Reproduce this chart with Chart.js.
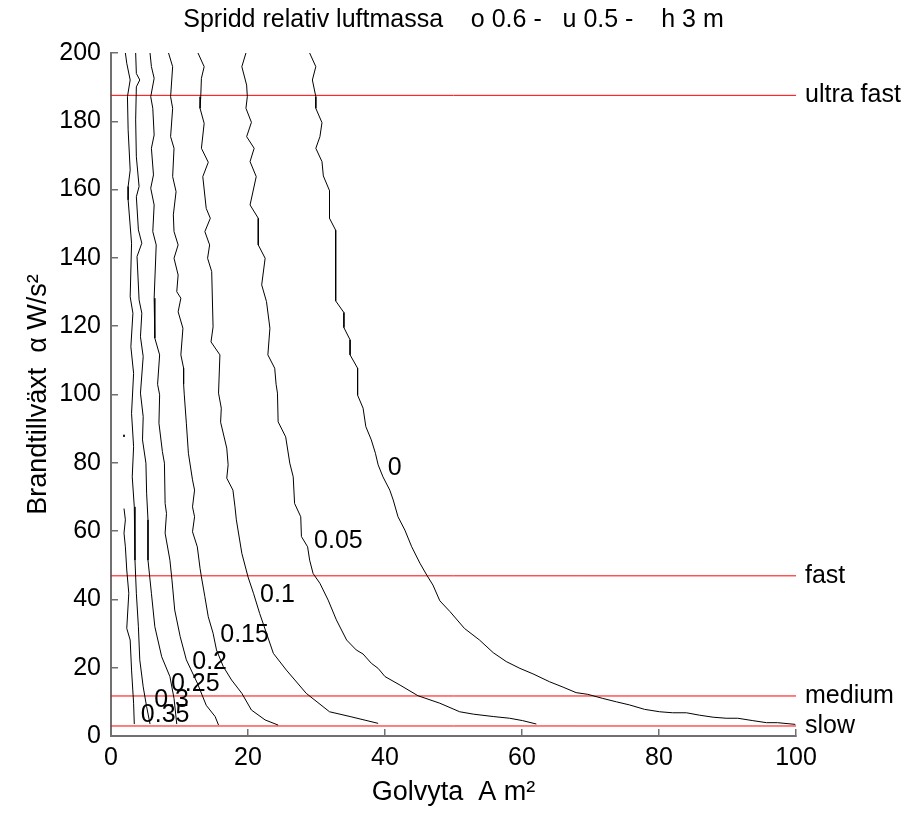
<!DOCTYPE html>
<html>
<head>
<meta charset="utf-8">
<title>Spridd relativ luftmassa</title>
<script src="https://cdn.jsdelivr.net/npm/chart.js@4.4.1/dist/chart.umd.min.js"></script>
<style>
    body { margin: 0; background: #fff; }
    #grafico { display: block; }
</style>
</head>
<body>
<canvas id="grafico" width="907" height="818"></canvas>
<script>
// konturlinjer, [golvyta m2, alfa W/s2]
var niva_0 = [[29.0,200],[29.9,196.0],[29.4,192.1],[29.9,187.2],[29.9,183.8],[30.8,179.6],[30.5,175.5],[29.9,172.1],[30.8,168.2],[31.0,164.0],[31.9,159.7],[31.9,151.6],[32.8,148.1],[32.8,127.4],[34.0,124.0],[34.0,119.6],[34.9,116.0],[34.9,111.6],[36.0,107.7],[36.0,99.8],[36.8,96.0],[37.2,90.6],[38.0,86.7],[38.6,82.8],[39.0,79.4],[39.7,75.9],[40.7,72.0],[41.2,69.1],[41.9,64.2],[42.9,60.3],[43.9,55.4],[45.1,50.6],[46.1,47.1],[47.0,44.2],[48.0,39.6],[49.5,36.4],[51.6,31.5],[53.8,28.1],[55.8,24.4],[57.7,21.8],[59.7,19.8],[61.6,18.2],[64.0,15.9],[66.0,14.3],[67.9,12.7],[69.6,12.2],[71.8,11.0],[73.8,10.0],[75.7,9.1],[77.9,7.8],[80.1,7.1],[82.0,6.8],[84.0,6.8],[85.9,6.1],[87.9,5.5],[89.8,5.2],[91.5,5.2],[93.7,4.5],[95.7,3.9],[97.3,3.9],[99.9,3.4]];
var niva_005 = [[19.7,200],[19.1,196.0],[19.8,190.6],[19.9,187.2],[19.7,183.8],[20.5,179.7],[19.8,175.5],[20.9,172.1],[20.3,168.2],[21.2,163.8],[20.3,155.5],[21.5,151.6],[21.5,143.8],[22.5,139.9],[22.0,132.1],[22.7,127.2],[23.2,119.4],[22.9,111.6],[23.9,107.7],[24.1,103.0],[24.3,100.4],[24.4,92.0],[25.5,87.6],[26.1,79.9],[26.6,75.9],[26.8,68.1],[27.7,64.2],[27.8,58.4],[28.7,55.4],[29.0,51.5],[29.5,47.6],[30.5,44.7],[31.7,39.8],[32.9,34.0],[34.4,28.1],[35.8,25.2],[36.8,24.0],[38.0,21.3],[39.0,19.8],[40.0,17.4],[42.2,14.9],[44.8,11.8],[48.0,9.6],[50.9,7.1],[52.9,6.4],[55.8,5.7],[58.2,5.2],[60.1,4.5],[62.1,3.5]];
var niva_01 = [[12.7,200],[13.6,196.0],[13.2,192.6],[13.1,187.2],[13.0,183.8],[13.6,179.4],[13.2,172.1],[14.2,168.0],[13.4,163.8],[13.9,154.5],[14.5,151.6],[13.7,147.7],[14.4,143.8],[14.1,139.9],[14.7,136.0],[14.9,119.8],[14.6,115.4],[15.9,111.6],[15.7,100.4],[16.1,96.0],[16.0,91.9],[16.9,84.3],[17.1,79.4],[16.9,75.5],[17.8,72.0],[18.1,67.1],[18.3,63.3],[19.1,53.5],[20.0,46.6],[20.8,41.8],[21.7,35.9],[22.7,30.1],[23.7,24.2],[25.6,19.3],[28.5,12.5],[31.9,7.1],[34.9,5.7],[39.0,3.7]];
var niva_015 = [[8.4,200],[9.0,196.0],[8.7,187.2],[9.0,183.8],[8.7,175.5],[9.2,172.1],[9.0,163.8],[9.5,159.4],[9.1,152.6],[9.2,147.7],[9.8,143.8],[9.2,139.9],[9.8,135.0],[9.6,130.1],[10.2,128.2],[9.8,124.2],[10.5,119.4],[10.2,111.6],[10.6,107.7],[10.6,103.0],[10.7,99.9],[11.0,91.6],[11.3,82.8],[11.9,75.0],[12.2,72.0],[11.9,67.1],[12.2,64.2],[11.9,59.8],[12.6,55.4],[13.0,49.1],[13.2,46.6],[13.7,40.8],[14.2,34.9],[14.9,30.1],[15.4,25.2],[16.4,20.3],[17.6,16.4],[19.1,12.5],[20.5,7.6],[22.5,4.7],[24.4,3.2]];
var niva_02 = [[5.7,200],[5.9,196.0],[6.3,192.6],[5.8,187.2],[6.1,183.8],[6.3,176.0],[5.9,172.1],[6.2,164.3],[5.8,160.4],[6.3,155.5],[6.1,147.7],[6.6,143.8],[6.3,128.2],[6.4,116.5],[7.1,111.6],[6.8,103.0],[7.1,99.9],[7.0,91.6],[7.5,83.3],[7.8,79.9],[7.9,68.1],[8.1,65.2],[7.9,59.4],[8.6,51.5],[8.9,45.7],[9.3,36.9],[10.1,29.1],[11.0,22.3],[12.6,15.5],[13.9,9.0],[15.2,5.7],[15.7,3.2]];
var niva_025 = [[3.6,200],[3.7,194.0],[4.2,192.1],[3.7,190.1],[3.6,180.4],[3.7,169.6],[4.1,160.9],[3.7,157.9],[4.0,148.2],[4.5,144.3],[3.8,140.4],[4.1,127.7],[4.5,123.8],[4.3,116.9],[4.7,111.1],[4.3,100.4],[4.7,93.5],[4.6,86.7],[5.1,79.9],[5.2,71.1],[5.4,63.3],[5.4,51.5],[5.9,41.8],[6.4,32.0],[7.4,23.2],[8.6,17.4],[9.2,11.0],[9.6,3.5]];
var niva_03 = [[2.1,200],[2.3,197.0],[2.8,192.1],[2.4,187.2],[2.5,177.5],[2.8,165.7],[2.5,160.9],[2.5,157.0],[3.0,144.3],[2.8,128.6],[3.2,123.8],[2.9,114.0],[3.3,106.2],[3.0,94.5],[3.3,84.7],[3.1,75.9],[3.4,67.1],[3.5,51.5],[3.7,41.8],[4.0,32.0],[4.2,22.3],[4.7,14.4],[5.2,8.6],[5.7,3.5]];
var niva_035 = [[1.9,66.6],[2.1,63.3],[1.9,59.4],[2.1,55.4],[2.3,48.6],[2.6,41.8],[2.3,31.5],[2.8,28.1],[3.0,19.3],[3.3,9.6],[3.4,3.5]];
var niva_035_prick = [[1.9,88.2],[1.9,87.6]];

// konturetiketter
var etikett_text = ['0', '0.05', '0.1', '0.15', '0.2', '0.25', '0.3', '0.35'];
var etikett_x = [41.4, 33.2, 24.3, 19.5, 14.4, 12.3, 8.85, 7.9];
var etikett_y = [78.5, 57.1, 41.2, 29.6, 21.7, 15.1, 10.4, 6.1];

// tillväxthastigheter
var tillvaxt_namn = ['slow', 'medium', 'fast', 'ultra fast'];
var tillvaxt_varde = [2.93, 11.72, 46.9, 187.6];

var x_ticks = [0, 20, 40, 60, 80, 100];
var y_ticks = [0, 20, 40, 60, 80, 100, 120, 140, 160, 180, 200];

var typsnitt = '"Liberation Sans", Arial, sans-serif';

function till_punkter(lista) {
    return lista.map(function (p) { return {x: p[0], y: p[1]}; });
}

function bygg_dataset() {
    var linjer = [niva_0, niva_005, niva_01, niva_015, niva_02, niva_025, niva_03, niva_035, niva_035_prick];
    var ds = [];
    for (var i = 0; i < linjer.length; i++) {
        ds.push({
            data: till_punkter(linjer[i]),
            borderColor: '#000',
            borderWidth: 1,
            pointRadius: 0,
            tension: 0,
            fill: false
        });
    }
    for (var j = 0; j < tillvaxt_varde.length; j++) {
        ds.push({
            data: [{x: 0, y: tillvaxt_varde[j]}, {x: 100, y: tillvaxt_varde[j]}],
            borderColor: '#ff0000',
            borderWidth: 1,
            pointRadius: 0,
            fill: false
        });
    }
    return ds;
}

var etiketter = {
    id: 'etiketter',
    afterDatasetsDraw: function (chart) {
        var ctx = chart.ctx;
        var sx = chart.scales.x;
        var sy = chart.scales.y;
        ctx.save();
        ctx.font = '25px ' + typsnitt;
        ctx.fillStyle = '#000';
        ctx.textAlign = 'center';
        ctx.textBaseline = 'middle';
        for (var i = 0; i < etikett_text.length; i++) {
            ctx.fillText(etikett_text[i], sx.getPixelForValue(etikett_x[i]), sy.getPixelForValue(etikett_y[i]));
        }
        ctx.restore();
    }
};

function rita() {
    Chart.defaults.font.family = typsnitt;
    Chart.defaults.font.size = 25;
    Chart.defaults.color = '#000';

    var ctx = document.getElementById('grafico').getContext('2d');
    var myChart = new Chart(ctx, {
        type: 'line',
        data: { datasets: bygg_dataset() },
        options: {
            responsive: false,
            animation: false,
            devicePixelRatio: 1,
            layout: { padding: 0 },
            plugins: {
                legend: { display: false },
                tooltip: { enabled: false },
                title: {
                    display: true,
                    text: 'Spridd relativ luftmassa    o 0.6 -   u 0.5 -    h 3 m',
                    font: { size: 25, weight: 'normal' },
                    color: '#000',
                    padding: { top: 5, bottom: 18 }
                }
            },
            scales: {
                x: {
                    type: 'linear',
                    min: 0,
                    max: 100,
                    afterBuildTicks: function (axis) {
                        axis.ticks = x_ticks.map(function (v) { return {value: v}; });
                    },
                    afterFit: function (axis) { axis.height = 82; },
                    ticks: { padding: 14, maxRotation: 0 },
                    grid: { drawOnChartArea: false, tickLength: -7, color: '#707070', lineWidth: 1.5 },
                    border: { color: '#707070', width: 2 },
                    title: {
                        display: true,
                        text: 'Golvyta  A m²',
                        font: { size: 27 },
                        padding: { top: 0, bottom: 9 }
                    }
                },
                y: {
                    type: 'linear',
                    position: 'left',
                    min: 0,
                    max: 200,
                    afterBuildTicks: function (axis) {
                        axis.ticks = y_ticks.map(function (v) { return {value: v}; });
                    },
                    afterFit: function (axis) { axis.width = 111; },
                    ticks: { padding: 17 },
                    grid: { drawOnChartArea: false, tickLength: -7, color: '#707070', lineWidth: 1.5 },
                    border: { color: '#707070', width: 2 },
                    title: {
                        display: true,
                        text: 'Brandtillväxt  α W/s²',
                        font: { size: 27 },
                        padding: { top: 22, bottom: 0 }
                    }
                },
                y2: {
                    type: 'linear',
                    position: 'right',
                    min: 0,
                    max: 200,
                    afterBuildTicks: function (axis) {
                        axis.ticks = tillvaxt_varde.map(function (v) { return {value: v}; });
                    },
                    afterFit: function (axis) { axis.width = 111; },
                    ticks: {
                        padding: 9,
                        autoSkip: false,
                        callback: function (value, index) { return tillvaxt_namn[index]; }
                    },
                    grid: { display: false, drawTicks: false },
                    border: { display: false }
                }
            }
        },
        plugins: [etiketter]
    });
}

rita();
</script>
</body>
</html>
